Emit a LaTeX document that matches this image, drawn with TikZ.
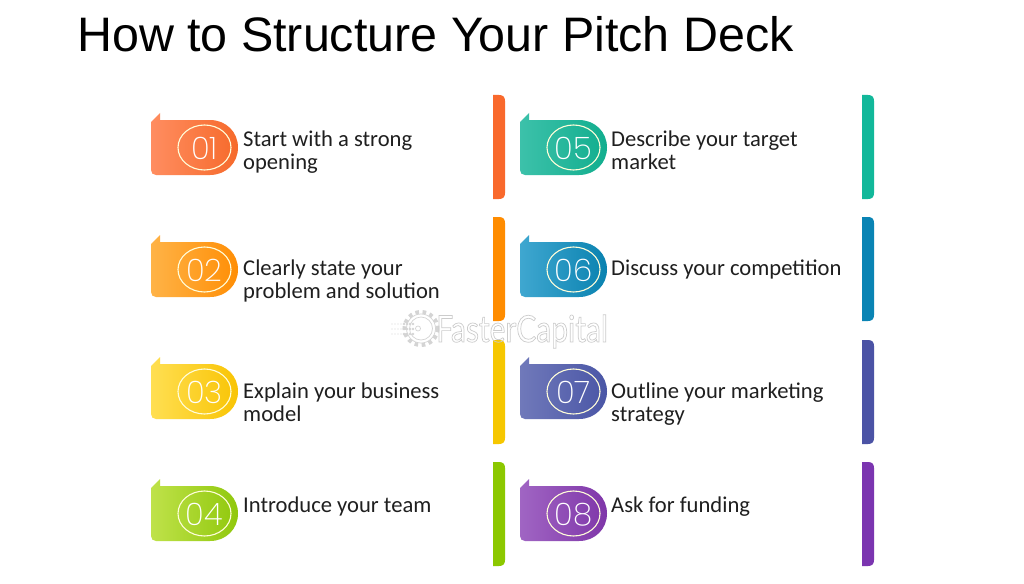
\documentclass[tikz,border=0pt]{standalone}
\usepackage{fontspec}
\setmainfont{Carlito}
\newfontfamily\titlefont{Liberation Sans}
\newfontfamily\numfont[UprightFont=* ExtraLight]{Poppins}
\newfontfamily\markfont[FakeStretch=0.81]{Lato}
\definecolor{c1a}{HTML}{FF8D60}\definecolor{c1b}{HTML}{F66A2B}\definecolor{b1}{HTML}{F9692C}
\definecolor{c2a}{HTML}{FFB347}\definecolor{c2b}{HTML}{FF8E05}\definecolor{b2}{HTML}{FF8C00}
\definecolor{c3a}{HTML}{FFDF52}\definecolor{c3b}{HTML}{F9C404}\definecolor{b3}{HTML}{F6C700}
\definecolor{c4a}{HTML}{BFE24A}\definecolor{c4b}{HTML}{90C80C}\definecolor{b4}{HTML}{8CC800}
\definecolor{c5a}{HTML}{3CC1AA}\definecolor{c5b}{HTML}{12AE8E}\definecolor{b5}{HTML}{12B89A}
\definecolor{c6a}{HTML}{3FA7D0}\definecolor{c6b}{HTML}{0A82B0}\definecolor{b6}{HTML}{0A84B4}
\definecolor{c7a}{HTML}{7079BA}\definecolor{c7b}{HTML}{4A56A6}\definecolor{b7}{HTML}{4B53A5}
\definecolor{c8a}{HTML}{A065C3}\definecolor{c8b}{HTML}{7F36A9}\definecolor{b8}{HTML}{7B35B0}
\definecolor{markgray}{HTML}{D4D4D4}
\tikzset{
  label text/.style={anchor=base west,align=left,inner sep=0pt,font=\fontsize{22.6}{23}\selectfont,text=black!88},
  num text/.style={inner sep=0pt,text=white,font=\numfont\fontsize{31}{31}\selectfont},
  ring/.style={draw=white!85!yellow,line width=1.1pt},
  mark line/.style={draw=markgray,line width=0.7pt},
}
\begin{document}
\begin{tikzpicture}[x=1pt,y=-1pt]
\path[use as bounding box,fill=white] (0,0) rectangle (1024,583);
\node[anchor=base west,inner sep=0pt,font=\titlefont\fontsize{48.4}{50}\selectfont,text=black] (title) at (77,52) {How to Structure Your Pitch Deck};
\foreach \n/\dx/\dy/\by/\num/\tx/\base/\txt in {
 1/0/0/0/01/243/169/{Start with a strong\\opening},
 2/0/122/122/02/243/298/{Clearly state your\\problem and solution},
 3/0/244/245/03/243/421.5/{Explain your business\\model},
 4/0/366/367/04/243/512/{Introduce your team},
 5/369/0/0/05/611/169/{Describe your target\\market},
 6/369/122/122/06/611/275/{Discuss your competition},
 7/369/244/245/07/611/421.5/{Outline your marketing\\strategy},
 8/369/366/367/08/611/512/{Ask for funding}}
{
 \begin{scope}[shift={(\dx,\dy)}]
  \shade[left color=c\n a,right color=c\n b]
    (151,122) -- (160,113) -- (160,120) -- (210,120)
    .. controls (226,120) and (238,132) .. (238,147.5)
    .. controls (238,163) and (226,175) .. (210,175)
    -- (156,175) .. controls (153,175) and (151,173) .. (151,170) -- cycle;
  \draw[ring] (204.5,147.5) ellipse [x radius=26.5,y radius=22.5];
  \node[num text] (num\n) at (204.5,148.5) {\num};
 \end{scope}
 \node[label text] (txt\n) at (\tx,\base) {\txt};
 \begin{scope}[shift={(\dx,\by)}]
  \fill[b\n] (493,95) -- (499,95) .. controls (503,95) and (505,97) .. (505,101)
     -- (505,193) .. controls (505,197) and (503,199) .. (499,199) -- (493,199) -- cycle;
 \end{scope}
}
% watermark
\draw[markgray,line width=4pt,dash pattern=on 3.6pt off 3.6pt] (421,328.5) circle (16.5);
\fill[white] (421,328.5) circle (14.5);
\draw[mark line] (421,328.5) circle (14.5);
\draw[mark line] (421,328.5) circle (11.5);
\draw[mark line] (418,328.5) circle (2.5);
\foreach \py in {324,329,334}{
  \foreach \px in {392,395,398,401}
    \fill[markgray] (\px,\py) circle (0.7);
  \foreach \px in {404,407,410,413}
    \fill[markgray] (\px,\py) circle (1.3);
}
\node[anchor=base west,inner sep=0pt,text=markgray,font=\markfont\fontsize{37}{37}\selectfont] (mark) at (436,342)
  {\special{pdf:code q 1 Tr 0.7 w 0.8 G}FasterCapital\special{pdf:code Q}};
\end{tikzpicture}
\end{document}
